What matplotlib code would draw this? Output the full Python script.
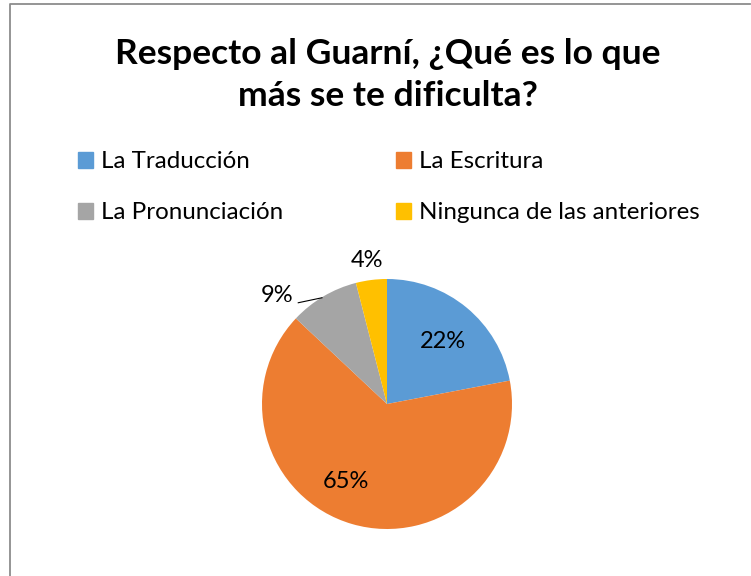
import numpy as np
import matplotlib.pyplot as plt
from matplotlib.lines import Line2D

plt.rcParams['font.family'] = ['Lato', 'DejaVu Sans']

categories = ['La Traducción', 'La Escritura', 'La Pronunciación', 'Ningunca de las anteriores']
values = [22, 65, 9, 4]
colors = ['#5B9BD5', '#ED7D31', '#A5A5A5', '#FFC000']
title = 'Respecto al Guarní, ¿Qué es lo que\nmás se te dificulta?'

W, H = 751, 576
fig = plt.figure(figsize=(W / 100, H / 100), dpi=100)

# chart border (only top and left edges visible)
fig.lines.append(Line2D([9.5 / W, 9.5 / W, 750 / W], [0, 1 - 3.5 / H, 1 - 3.5 / H],
                        transform=fig.transFigure, color='#8c8c8c', lw=1.3))

fig.text(388 / W, 1 - 75 / H, title, ha='center', va='center',
         fontsize=25.5, fontweight='bold', linespacing=1.4)

# pie axes, centre (387, 404), radius 125 px
cx, cy, r = 387, 404, 125
ax = fig.add_axes([(cx - r) / W, 1 - (cy + r) / H, 2 * r / W, 2 * r / H])
wedges, texts, autotexts = ax.pie(values, colors=colors, startangle=90,
                                  counterclock=False, autopct='%1.0f%%',
                                  pctdistance=0.68,
                                  textprops={'fontsize': 17})
ax.set_xlim(-1, 1)
ax.set_ylim(-1, 1)
ax.set_aspect('equal')

# outside labels for small slices
autotexts[2].set_position((-0.88, 0.87))
autotexts[3].set_position((-0.16, 1.15))
ax.plot([-0.71, -0.52], [0.81, 0.85], color='black', lw=0.8, clip_on=False)
autotexts[1].set_position((-0.33, -0.62))
autotexts[0].set_position((0.45, 0.50))

# legend, row-major order like the original
handles = [plt.Rectangle((0, 0), 1, 1, color=c) for c in colors]
order = [0, 2, 1, 3]
leg = fig.legend([handles[i] for i in order], [categories[i] for i in order],
                 ncol=2, loc='upper left',
                 bbox_to_anchor=(56 / W, 1 - 129.5 / H), frameon=False,
                 fontsize=17.4, handlelength=0.62, handleheight=0.62,
                 handletextpad=0.33, columnspacing=4.7, labelspacing=1.25)

fig.savefig('out.png', dpi=100)
